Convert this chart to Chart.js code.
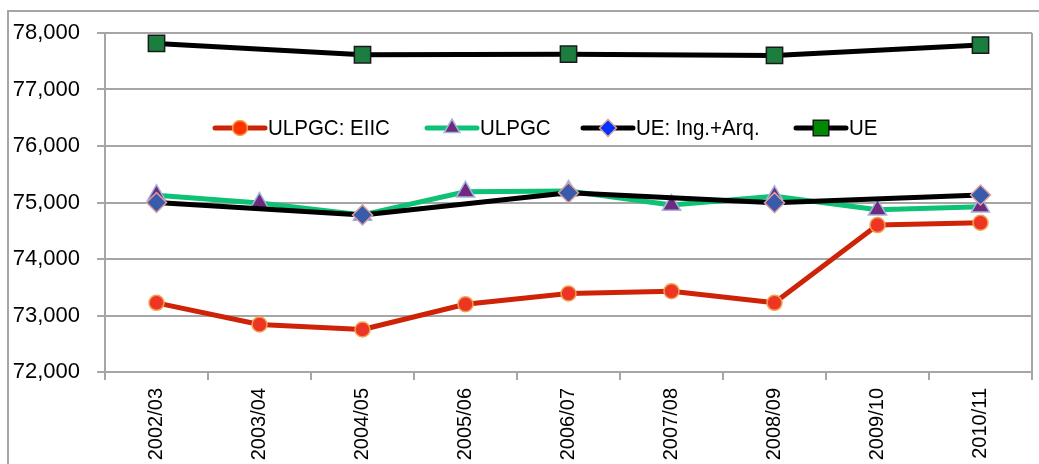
<!DOCTYPE html>
<html>
<head>
<meta charset="utf-8">
<script src="https://cdn.jsdelivr.net/npm/chart.js@4/dist/chart.umd.min.js"></script>
<style>
  html, body { margin: 0; padding: 0; background: #fff; }
  #wrap { position: relative; width: 1039px; height: 464px; }
</style>
</head>
<body>
<div id="wrap"><canvas id="c" width="1039" height="464"></canvas></div>
<script>
// Academic years on the horizontal axis
const years = ['2002/03', '2003/04', '2004/05', '2005/06', '2006/07', '2007/08', '2008/09', '2009/10', '2010/11'];

// Series values (null where a series has no data for that year)
const ulpgcEiic = [73224, 72840, 72752, 73200, 73390, 73431, 73224, 74601, 74642];
const ulpgc     = [75130, 74990, 74780, 75190, 75204, 74955, 75110, 74870, 74925];
const ueIngArq  = [75000, null, 74778, null, 75174, null, 74997, null, 75133];
const ue        = [77816, null, 77615, null, 77625, null, 77603, null, 77787];

// Value-axis ticks
const yTicks = [72000, 73000, 74000, 75000, 76000, 77000, 78000];

const FONT = '"Liberation Sans", Arial, sans-serif';
const GRID = '#A6A6A6';

// Legend drawn inside the plot area, one row
const innerLegend = {
  id: 'innerLegend',
  afterDraw(chart, args, opts) {
    const ctx = chart.ctx;
    const y = opts.y;
    ctx.save();
    chart.data.datasets.forEach((ds, i) => {
      const x0 = opts.x[i];
      const x1 = x0 + opts.lineLength;
      ctx.beginPath();
      ctx.lineWidth = 5;
      ctx.lineCap = 'round';
      ctx.strokeStyle = ds.borderColor;
      ctx.moveTo(x0, y);
      ctx.lineTo(x1, y);
      ctx.stroke();
      ctx.fillStyle = ds.legendFill;
      ctx.strokeStyle = ds.pointBorderColor;
      ctx.lineWidth = ds.pointBorderWidth;
      Chart.helpers.drawPoint(ctx, {
        pointStyle: ds.pointStyle,
        radius: ds.legendRadius,
        borderWidth: ds.pointBorderWidth,
        rotation: 0
      }, (x0 + x1) / 2, y);
      // label text, slightly tall letterforms
      ctx.save();
      ctx.translate(x1 + 3, y + 1);
      ctx.scale(1, 1.12);
      ctx.fillStyle = '#000';
      ctx.font = '20.5px ' + FONT;
      ctx.textBaseline = 'middle';
      ctx.textAlign = 'left';
      ctx.fillText(ds.label, 0, 0);
      ctx.restore();
    });
    ctx.restore();
  }
};

// Outer frame and right edge of the plot
const frame = {
  id: 'frame',
  beforeDraw(chart) {
    const ctx = chart.ctx;
    ctx.save();
    ctx.fillStyle = '#fff';
    ctx.fillRect(0, 0, chart.width, chart.height);
    ctx.strokeStyle = GRID;
    ctx.lineWidth = 2;
    ctx.beginPath();
    ctx.moveTo(8, chart.height);
    ctx.lineTo(8, 11);
    ctx.lineTo(chart.width, 11);
    ctx.stroke();
    ctx.restore();
  },
  beforeDatasetsDraw(chart) {
    const ctx = chart.ctx;
    const a = chart.chartArea;
    ctx.save();
    ctx.strokeStyle = GRID;
    ctx.lineWidth = 2;
    ctx.beginPath();
    ctx.moveTo(a.right, a.top);
    ctx.lineTo(a.right, a.bottom);
    ctx.stroke();
    ctx.restore();
  }
};

const fmt = v => v.toLocaleString('en-US');

new Chart(document.getElementById('c'), {
  type: 'line',
  data: {
    labels: years,
    datasets: [
      {
        label: 'ULPGC: EIIC', data: ulpgcEiic, order: 4,
        borderColor: '#CF2307', borderWidth: 5,
        pointStyle: 'circle', pointRadius: 7.5, legendRadius: 7.5,
        pointBackgroundColor: '#EE3524', legendFill: '#FF3300',
        pointBorderColor: '#F0A250', pointBorderWidth: 1.5
      },
      {
        label: 'ULPGC', data: ulpgc, order: 3,
        borderColor: '#0DC274', borderWidth: 5,
        pointStyle: 'triangle', pointRadius: 10.5, legendRadius: 9,
        pointBackgroundColor: '#6E2A7E', legendFill: '#6E2A7E',
        pointBorderColor: '#A2B4DA', pointBorderWidth: 1.5
      },
      {
        label: 'UE: Ing.+Arq.', data: ueIngArq, order: 2,
        borderColor: '#000000', borderWidth: 5,
        pointStyle: 'rectRot', pointRadius: 10, legendRadius: 8.5,
        pointBackgroundColor: '#3A5BA9', legendFill: '#0033FF',
        pointBorderColor: '#DDA0A0', pointBorderWidth: 1.5
      },
      {
        label: 'UE', data: ue, order: 1,
        borderColor: '#000000', borderWidth: 5,
        pointStyle: 'rect', pointRadius: 11.5, legendRadius: 11,
        pointBackgroundColor: '#1B7E3F', legendFill: '#008A00',
        pointBorderColor: '#1A1A1A', pointBorderWidth: 1.5
      }
    ]
  },
  options: {
    responsive: false,
    animation: false,
    spanGaps: true,
    devicePixelRatio: 1,
    layout: { autoPadding: false, padding: { top: 33, right: 7, left: 0, bottom: 0 } },
    elements: {
      line: { tension: 0, borderCapStyle: 'round', borderJoinStyle: 'round' },
      point: { hoverRadius: 10 }
    },
    plugins: {
      legend: { display: false },
      tooltip: { enabled: false },
      innerLegend: { x: [215, 427, 583, 796], y: 128, lineLength: 50 }
    },
    scales: {
      x: {
        type: 'category',
        offset: true,
        grid: { offset: true, drawOnChartArea: false, drawTicks: true, tickLength: 8, color: GRID, lineWidth: 2 },
        border: { color: GRID, width: 2 },
        ticks: {
          autoSkip: false, minRotation: 90, maxRotation: 90, padding: 8,
          color: '#000', font: { family: FONT, size: 20 }
        },
        afterFit(s) { s.height = 92; }
      },
      y: {
        min: yTicks[0], max: yTicks[yTicks.length - 1],
        afterBuildTicks(s) { s.ticks = yTicks.map(v => ({ value: v })); },
        grid: { color: GRID, lineWidth: 2, tickLength: 8 },
        border: { color: GRID, width: 2 },
        ticks: {
          padding: 17, color: '#000', font: { family: FONT, size: 22 },
          callback: v => fmt(v)
        },
        afterFit(s) { s.width = 105; }
      }
    }
  },
  plugins: [frame, innerLegend]
});
</script>
</body>
</html>
